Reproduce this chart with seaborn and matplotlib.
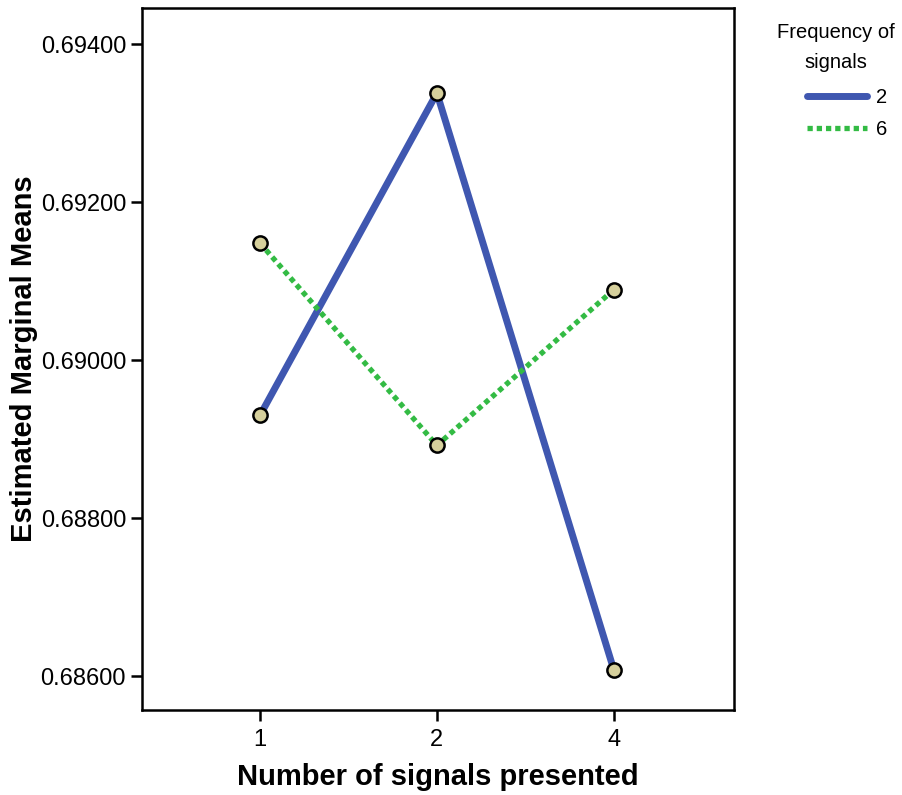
import pandas as pd
import matplotlib
matplotlib.use('Agg')
import matplotlib.pyplot as plt
import seaborn as sns
from matplotlib.lines import Line2D

# ===== Data =====
signals_presented = ['1', '2', '4']
freq_labels = ['2', '6']
means_freq2 = [0.68930, 0.69338, 0.68608]
means_freq6 = [0.69148, 0.68892, 0.69089]

BLUE = '#3f57b0'
GREEN = '#33bb44'
MARKER_FILL = '#d6d09c'

df = pd.DataFrame({
    'presented': signals_presented * 2,
    'freq': [freq_labels[0]] * 3 + [freq_labels[1]] * 3,
    'mean': means_freq2 + means_freq6,
})

sns.set_style('ticks')
plt.rcParams['font.family'] = ['Liberation Sans', 'DejaVu Sans']
plt.rcParams['text.color'] = 'black'
plt.rcParams['axes.labelcolor'] = 'black'

fig = plt.figure(figsize=(9.03, 7.95), dpi=100)
ax = fig.add_axes([0.1573, 0.1069, 0.6556, 0.8830])

sns.lineplot(data=df[df['freq'] == '2'], x='presented', y='mean',
             color=BLUE, linewidth=5, ax=ax, legend=False)
sns.lineplot(data=df[df['freq'] == '6'], x='presented', y='mean',
             color=GREEN, linewidth=3.8, ax=ax, legend=False)
ax.lines[-1].set_linestyle((0, (1.0, 0.75)))
sns.scatterplot(data=df, x='presented', y='mean', color=MARKER_FILL,
                edgecolor='black', linewidth=1.8, s=105, ax=ax,
                legend=False, zorder=5)

ax.set_xlim(-0.667, 2.68)
ax.set_ylim(0.685570, 0.694456)
ax.set_yticks([0.686, 0.688, 0.690, 0.692, 0.694])
ax.set_yticklabels(['0.68600', '0.68800', '0.69000', '0.69200', '0.69400'])

for side in ['top', 'right', 'left', 'bottom']:
    ax.spines[side].set_visible(True)
    ax.spines[side].set_linewidth(1.8)
    ax.spines[side].set_color('black')
ax.tick_params(axis='both', length=8, width=1.8, labelsize=17,
               colors='black', labelcolor='black')
ax.tick_params(axis='x', pad=6)

ax.set_xlabel('Number of signals presented', fontsize=21, fontweight='bold',
              labelpad=8, color='black')
ax.set_ylabel('Estimated Marginal Means', fontsize=21, fontweight='bold',
              labelpad=2, color='black')

# Legend: title as separate centred text, entries offset to the right
fig.text(0.9258, 0.9597, 'Frequency of', ha='center', va='center', fontsize=14.5)
fig.text(0.9258, 0.9220, 'signals', ha='center', va='center', fontsize=14.5)

handles = [
    Line2D([0], [0], color=BLUE, linewidth=5),
    Line2D([0], [0], color=GREEN, linewidth=3.8, linestyle=(0, (1.0, 0.75))),
]
leg = fig.legend(handles, freq_labels, loc='center left',
                 bbox_to_anchor=(0.8937, 0.8572), frameon=False,
                 fontsize=14.5, borderpad=0, borderaxespad=0,
                 handlelength=3.0, handletextpad=0.45, labelspacing=0.6)
for t in leg.get_texts():
    t.set_color('black')

fig.savefig('out.png', dpi=100)
